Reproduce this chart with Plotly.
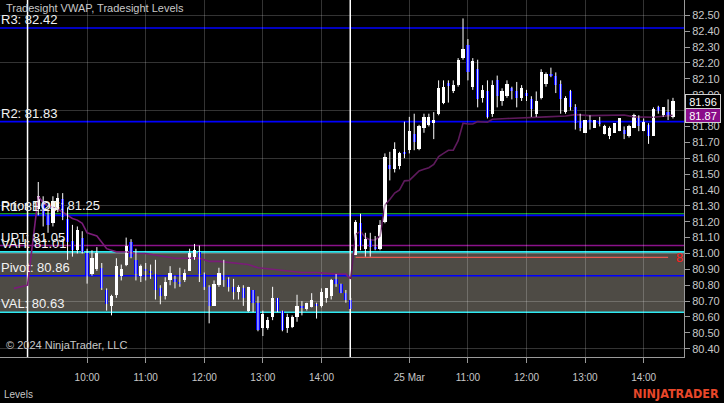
import plotly.graph_objects as go

# ---------------- data ----------------
# chart time axis: minutes since 09:00 on day 1; day 2 continues at +330 (session 09:00-14:30)
day1_t = list(range(10, 331, 5))
day1_open = [81.28, 81.33, 81.24, 81.19, 81.28, 81.34, 81.22, 81.08, 81.02, 81.10,
             81.00, 80.87, 80.90, 80.91, 80.77, 80.67, 80.74, 80.86, 80.93, 81.07,
             80.96, 80.86, 80.90, 80.89, 80.87, 80.78, 80.73, 80.83, 80.84, 80.82,
             80.83, 80.89, 80.98, 81.01, 80.87, 80.79, 80.67, 80.80, 80.86, 80.84,
             80.79, 80.76, 80.78, 80.64, 80.77, 80.69, 80.53, 80.53, 80.60, 80.72,
             80.64, 80.53, 80.54, 80.60, 80.67, 80.65, 80.66, 80.68, 80.67, 80.72,
             80.73, 80.84, 80.81, 80.75, 80.71]
day1_high = [81.45, 81.36, 81.27, 81.36, 81.38, 81.38, 81.29, 81.18, 81.17, 81.14,
             81.03, 81.02, 81.04, 80.94, 80.78, 80.74, 80.97, 80.93, 81.10, 81.09,
             81.03, 80.93, 80.94, 80.93, 80.96, 80.80, 80.85, 80.92, 80.86, 80.91,
             80.90, 81.03, 81.06, 81.05, 80.88, 80.80, 80.83, 80.91, 80.96, 80.85,
             80.84, 80.80, 80.80, 80.79, 80.77, 80.73, 80.64, 80.60, 80.79, 80.72,
             80.64, 80.62, 80.61, 80.74, 80.70, 80.69, 80.75, 80.69, 80.78, 80.78,
             80.84, 80.87, 80.81, 80.77, 80.72]
day1_low = [81.24, 81.17, 81.13, 81.17, 81.26, 81.21, 80.96, 80.98, 81.00, 81.00,
            80.81, 80.86, 80.89, 80.77, 80.64, 80.61, 80.72, 80.83, 80.92, 80.97,
            80.83, 80.82, 80.83, 80.84, 80.71, 80.68, 80.71, 80.80, 80.78, 80.79,
            80.82, 80.89, 80.96, 80.82, 80.77, 80.56, 80.67, 80.79, 80.79, 80.76,
            80.71, 80.71, 80.67, 80.63, 80.63, 80.51, 80.48, 80.52, 80.58, 80.63,
            80.51, 80.50, 80.53, 80.57, 80.61, 80.64, 80.66, 80.59, 80.66, 80.69,
            80.71, 80.79, 80.75, 80.69, 80.65]
day1_close = [81.36, 81.24, 81.18, 81.33, 81.35, 81.23, 81.07, 81.02, 81.15, 81.01,
              80.86, 80.97, 81.00, 80.78, 80.68, 80.73, 80.92, 80.90, 81.05, 80.98,
              80.87, 80.92, 80.89, 80.88, 80.77, 80.73, 80.82, 80.88, 80.82, 80.81,
              80.88, 81.00, 81.02, 80.87, 80.79, 80.67, 80.81, 80.88, 80.83, 80.79,
              80.76, 80.79, 80.72, 80.79, 80.69, 80.52, 80.62, 80.58, 80.72, 80.64,
              80.52, 80.60, 80.60, 80.67, 80.66, 80.69, 80.71, 80.67, 80.76, 80.78,
              80.83, 80.81, 80.75, 80.71, 80.65]

day2_t = list(range(335, 661, 5))
day2_open = [80.99, 81.19, 81.03, 81.09, 81.04, 81.03, 81.20, 81.56, 81.53, 81.55,
             81.64, 81.65, 81.75, 81.66, 81.79, 81.81, 81.82, 81.88, 81.95, 82.07,
             82.02, 82.06, 82.23, 82.31, 82.05, 82.16, 81.98, 82.02, 81.88, 82.09,
             81.96, 81.99, 82.04, 82.02, 81.98, 82.01, 81.97, 81.88, 81.98, 82.07,
             82.13, 82.12, 82.07, 81.89, 82.02, 81.92, 81.83, 81.76, 81.84, 81.79,
             81.83, 81.75, 81.74, 81.76, 81.77, 81.78, 81.74, 81.79, 81.85, 81.77,
             81.81, 81.74, 81.92, 81.87, 81.89, 81.86]
day2_high = [81.21, 81.25, 81.13, 81.13, 81.11, 81.21, 81.63, 81.64, 81.70, 81.64,
             81.83, 81.86, 81.88, 81.81, 81.88, 81.88, 81.89, 82.09, 82.09, 82.09,
             82.09, 82.23, 82.48, 82.35, 82.23, 82.22, 82.06, 82.09, 82.09, 82.12,
             82.04, 82.09, 82.05, 82.08, 82.06, 82.03, 81.99, 82.02, 82.16, 82.14,
             82.17, 82.14, 82.09, 81.99, 82.03, 81.94, 81.88, 81.84, 81.87, 81.84,
             81.86, 81.81, 81.80, 81.82, 81.85, 81.80, 81.81, 81.88, 81.87, 81.85,
             81.82, 81.92, 81.93, 81.92, 81.97, 81.98]
day2_low = [80.99, 81.02, 80.98, 80.98, 81.02, 81.02, 81.19, 81.46, 81.51, 81.53,
            81.60, 81.63, 81.65, 81.65, 81.76, 81.80, 81.72, 81.87, 81.94, 81.95,
            82.01, 82.05, 82.22, 82.09, 82.03, 81.92, 81.95, 81.85, 81.86, 81.92,
            81.93, 81.98, 81.97, 81.92, 81.96, 81.96, 81.86, 81.86, 81.97, 82.05,
            82.11, 82.01, 81.88, 81.88, 81.90, 81.78, 81.77, 81.76, 81.78, 81.79,
            81.80, 81.75, 81.72, 81.76, 81.77, 81.72, 81.73, 81.79, 81.77, 81.77,
            81.69, 81.74, 81.88, 81.86, 81.84, 81.85]
day2_close = [81.20, 81.05, 81.09, 81.04, 81.03, 81.18, 81.61, 81.53, 81.66, 81.63,
              81.63, 81.77, 81.70, 81.80, 81.86, 81.86, 81.84, 82.04, 82.05, 82.06,
              82.06, 82.22, 82.29, 82.14, 82.21, 81.97, 82.03, 81.86, 82.06, 81.99,
              82.02, 82.07, 82.02, 81.98, 82.04, 81.99, 81.91, 81.96, 82.14, 82.13,
              82.12, 82.06, 81.97, 81.98, 81.92, 81.82, 81.79, 81.84, 81.83, 81.84,
              81.82, 81.80, 81.79, 81.82, 81.85, 81.75, 81.80, 81.87, 81.80, 81.83,
              81.74, 81.91, 81.90, 81.92, 81.87, 81.96]

# VWAP (prior session tail + day 1) and day 2
vwap1_t = [-15, -1, 10, 15, 20, 25, 30, 35, 40, 45, 50, 55, 60, 65, 70, 75, 80, 85, 90,
           100, 110, 120, 130, 140, 150, 160, 175, 180, 185, 195, 210, 225, 235, 250,
           265, 280, 295, 315, 325, 330]
vwap1_v = [80.78, 80.80, 81.36, 81.32, 81.30, 81.29, 81.28, 81.26, 81.24, 81.22, 81.21,
           81.19, 81.13, 81.12, 81.11, 81.07, 81.03, 81.02, 81.01, 81.01, 81.00, 81.00,
           80.99, 80.98, 80.97, 80.97, 80.97, 80.96, 80.95, 80.95, 80.94, 80.93, 80.91,
           80.90, 80.89, 80.88, 80.88, 80.87, 80.87, 80.84]
vwap2_t = [330, 335, 340, 345, 350, 355, 360, 365, 370, 375, 380, 385, 390, 395, 400,
           405, 410, 415, 420, 425, 430, 435, 440, 445, 450, 455, 460, 470, 475, 490,
           510, 530, 550, 560, 575, 590, 610, 620, 640, 660]
vwap2_v = [80.84, 81.12, 81.14, 81.10, 81.085, 81.085, 81.11, 81.305, 81.34, 81.38,
           81.40, 81.457, 81.46, 81.49, 81.52, 81.53, 81.54, 81.56, 81.61, 81.63, 81.65,
           81.65, 81.71, 81.82, 81.815, 81.815, 81.83, 81.826, 81.845, 81.85, 81.853,
           81.86, 81.866, 81.874, 81.868, 81.868, 81.872, 81.86, 81.858, 81.87]

# Levels
level_names = ["R3", "R2", "Prior POC", "R1", "UPT", "VAH", "Pivot", "VAL"]
level_values = [82.42, 81.83, 81.25, 81.24, 81.05, 81.01, 80.86, 80.63]
level_colors = ["#0000ff", "#0000ff", "#169a16", "#0000ff", "#8a128a", "#2ee8f0", "#0000ff", "#2ee8f0"]
red_level = 80.975
red_level_span = [335, 655]
session_breaks = [-1, 329.5]

tick_vals = [60, 120, 180, 240, 300, 390, 450, 510, 570, 630]
tick_text = ["10:00", "11:00", "12:00", "13:00", "14:00", "25 Mar", "11:00", "12:00", "13:00", "14:00"]

last_price = 81.96
last_vwap = 81.87

# ---------------- figure ----------------
t_all = day1_t + day2_t
o_all = day1_open + day2_open
h_all = day1_high + day2_high
l_all = day1_low + day2_low
c_all = day1_close + day2_close

UP = "#ffffff"
DOWN = "#0000ff"
FONT = "Liberation Sans, Arial, sans-serif"

fig = go.Figure()

# invisible trace on grid axis
fig.add_trace(go.Scatter(x=[0], y=[81.0], yaxis="y2", mode="markers",
                         marker=dict(opacity=0), hoverinfo="skip", showlegend=False))

# VWAP lines
fig.add_trace(go.Scatter(x=vwap1_t, y=vwap1_v, mode="lines",
                         line=dict(color="#7a1c78", width=1.6), showlegend=False))
fig.add_trace(go.Scatter(x=vwap2_t, y=vwap2_v, mode="lines",
                         line=dict(color="#5e1a5c", width=1.6), showlegend=False))

# red level line (day 2)
fig.add_trace(go.Scatter(x=red_level_span, y=[red_level, red_level], mode="lines",
                         line=dict(color="#e85a50", width=1.3), showlegend=False))

# wicks
wx, wy = [], []
for t, h, l in zip(t_all, h_all, l_all):
    wx += [t, t, None]
    wy += [l, h, None]
fig.add_trace(go.Scatter(x=wx, y=wy, mode="lines", line=dict(color="#ffffff", width=1),
                         showlegend=False, hoverinfo="skip"))

# bodies
base = [min(o, c) for o, c in zip(o_all, c_all)]
hgt = [max(abs(c - o), 0.012) for o, c in zip(o_all, c_all)]
cols = [UP if c >= o else DOWN for o, c in zip(o_all, c_all)]
fig.add_trace(go.Bar(x=t_all, y=hgt, base=base, width=3.3,
                     marker=dict(color=cols, line=dict(width=0)), showlegend=False))

shapes = []
# value area box
shapes.append(dict(type="rect", xref="paper", x0=0, x1=1, yref="y",
                   y0=level_values[7], y1=level_values[5],
                   fillcolor="#4e4b45", line=dict(width=0), layer="below"))
# level lines
for v, col in zip(level_values, level_colors):
    shapes.append(dict(type="line", xref="paper", x0=0, x1=1, yref="y", y0=v, y1=v,
                       line=dict(color=col, width=1.6), layer="between"))
# session breaks
for sb in session_breaks:
    shapes.append(dict(type="line", xref="x", x0=sb, x1=sb, yref="paper", y0=0, y1=1,
                       line=dict(color="#ffffff", width=1.5), layer="between"))

annotations = []
for name, v in zip(level_names, level_values):
    annotations.append(dict(xref="paper", x=0, yref="y", y=v, xanchor="left", yanchor="bottom",
                            text=f"{name}: {v:.2f}", showarrow=False, borderpad=0,
                            font=dict(family=FONT, size=13, color="#f2f2f2")))
annotations += [
    dict(xref="paper", x=0, xshift=4, yref="paper", y=1, yanchor="top", xanchor="left",
         text="Tradesight VWAP, Tradesight Levels", showarrow=False,
         font=dict(family=FONT, size=11, color="#c8c8c8")),
    dict(xref="paper", x=0, xshift=4, yref="paper", y=0, yshift=4, yanchor="bottom", xanchor="left",
         text="© 2024 NinjaTrader, LLC", showarrow=False,
         font=dict(family=FONT, size=11, color="#c8c8c8")),
    dict(xref="paper", x=0, xshift=2, yref="paper", y=-0.104, yanchor="middle", xanchor="left",
         text="Levels", showarrow=False, font=dict(family=FONT, size=10, color="#c8c8c8")),
    dict(xref="paper", x=1, xshift=37, yref="paper", y=-0.101, yanchor="middle", xanchor="right",
         text="<b>NINJATRADER</b>", showarrow=False,
         font=dict(family="DejaVu Sans Condensed, sans-serif", size=12.5, color="#e8472a")),
    dict(xref="x", x=661, yref="y", y=red_level, xanchor="left", yanchor="middle",
         text="8", showarrow=False, font=dict(family=FONT, size=13, color="#ff2020")),
    dict(xref="paper", x=1, xshift=1, yref="y", y=last_price, xanchor="left", yanchor="middle",
         text=f"{last_price:.2f}", showarrow=False, width=34, height=13,
         bgcolor="#000000", bordercolor="#d0d0d0", borderwidth=1, borderpad=0,
         font=dict(family=FONT, size=11, color="#ffffff")),
    dict(xref="paper", x=1, xshift=1, yref="y", y=last_vwap, xanchor="left", yanchor="middle",
         text=f"{last_vwap:.2f}", showarrow=False, width=34, height=13,
         bgcolor="#8a0c8a", bordercolor="#d0d0d0", borderwidth=1, borderpad=0,
         font=dict(family=FONT, size=11, color="#ffffff")),
]

fig.update_layout(
    width=724, height=403,
    margin=dict(l=0, r=40, t=0, b=46, pad=0, autoexpand=False),
    paper_bgcolor="#000000", plot_bgcolor="#000000",
    barmode="overlay", bargap=0,
    showlegend=False,
    xaxis=dict(range=[-29.2, 671.3], tickmode="array", tickvals=tick_vals, ticktext=tick_text,
               ticks="outside", ticklen=5, tickcolor="#9a9a9a",
               showline=True, linecolor="#9a9a9a", linewidth=1,
               showgrid=True, gridcolor="rgba(255,255,255,0.2)", gridwidth=1, zeroline=False,
               tickfont=dict(family=FONT, size=10, color="#c8c8c8"), ticklabelstandoff=6),
    yaxis=dict(range=[80.348, 82.596], side="right", tick0=80.4, dtick=0.1, tickformat=".2f",
               ticks="outside", ticklen=5, tickcolor="#9a9a9a",
               showline=True, linecolor="#9a9a9a", linewidth=1, showgrid=False, zeroline=False,
               tickfont=dict(family=FONT, size=11, color="#c8c8c8")),
    yaxis2=dict(range=[80.348, 82.596], overlaying="y", side="right", tick0=80.4, dtick=0.3,
                showticklabels=False, ticks="", showgrid=True,
                gridcolor="rgba(255,255,255,0.2)", gridwidth=1, zeroline=False, showline=False),
    shapes=shapes, annotations=annotations,
)

fig.write_html("out.html", config={"displayModeBar": False},
               post_script="document.body.style.margin='0px';document.body.style.background='#000';")
